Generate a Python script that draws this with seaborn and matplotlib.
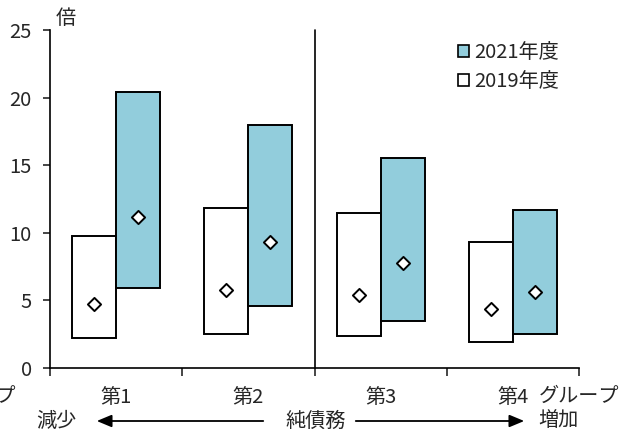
import matplotlib
matplotlib.use("Agg")
import matplotlib.pyplot as plt
from matplotlib.patches import Patch, FancyArrowPatch
import pandas as pd
import seaborn as sns

# data (倍)
groups = ["第1", "第2", "第3", "第4"]
years = ["2019年度", "2021年度"]
low_2019 = [2.2, 2.5, 2.4, 1.9]
high_2019 = [9.8, 11.8, 11.5, 9.3]
mid_2019 = [4.7, 5.8, 5.4, 4.4]
low_2021 = [5.9, 4.6, 3.5, 2.5]
high_2021 = [20.4, 18.0, 15.5, 11.7]
mid_2021 = [11.2, 9.3, 7.8, 5.6]
yticks = [0, 5, 10, 15, 20, 25]

sns.set_style("white")
plt.rcParams["font.family"] = ["Noto Sans CJK JP", "DejaVu Sans"]
plt.rcParams["font.size"] = 14.5

fill_colors = {"2019年度": "white", "2021年度": "#92CDDC"}

df = pd.DataFrame({
    "group": groups * 2,
    "year": [years[0]] * 4 + [years[1]] * 4,
    "span": [h - l for h, l in zip(high_2019, low_2019)] + [h - l for h, l in zip(high_2021, low_2021)],
})

fig = plt.figure(figsize=(6.29, 4.33), dpi=100)
ax = fig.add_axes([50 / 629, 1 - 368 / 433, 529 / 629, 338 / 433])

sns.barplot(data=df, x="group", y="span", hue="year", hue_order=years,
            order=groups, palette=fill_colors, saturation=1, width=2 / 3, dodge=True,
            edgecolor="black", linewidth=1.4, legend=False, ax=ax)

# make the boxes float: lift each bar to its low value
for cont, lows in zip(ax.containers, [low_2019, low_2021]):
    for bar, lo in zip(cont, lows):
        bar.set_y(lo)

# median diamonds
pos = list(range(len(groups)))
mid_df = pd.DataFrame({
    "x": [p - 1 / 6 for p in pos] + [p + 1 / 6 for p in pos],
    "y": mid_2019 + mid_2021,
})
sns.scatterplot(data=mid_df, x="x", y="y", marker="D", s=45, color="white",
                edgecolor="black", linewidth=1.4, zorder=5, ax=ax)

ax.set_xlim(-0.5, 3.5)
ax.set_ylim(0, 25)
ax.set_yticks(yticks)
ax.set_xlabel("")
ax.set_ylabel("")
ax.set_xticks([-0.5, 0.5, 1.5, 2.5, 3.5])
ax.set_xticklabels([])
ax.set_xticks(pos, minor=True)
ax.set_xticklabels(groups, minor=True)
ax.tick_params(axis="x", which="major", direction="out", length=6, width=1.2, bottom=True)
ax.tick_params(axis="x", which="minor", length=0, pad=14)
ax.tick_params(axis="y", direction="out", length=5, width=1.2, left=True, pad=8)
for s in ["top", "right"]:
    ax.spines[s].set_visible(False)
for s in ["left", "bottom"]:
    ax.spines[s].set_color("black")
    ax.spines[s].set_linewidth(1.2)

ax.axvline(1.5, color="black", lw=1.2, clip_on=False)

handles = [Patch(facecolor=fill_colors["2021年度"], edgecolor="black", linewidth=1.2),
           Patch(facecolor="white", edgecolor="black", linewidth=1.2)]
fig.legend(handles, ["2021年度", "2019年度"], loc="upper left",
           bbox_to_anchor=(440 / 629, 1 - 24 / 433), frameon=False,
           handlelength=0.55, handleheight=0.55, handletextpad=0.25,
           labelspacing=0.4, fontsize=14.5)

fig.text(56 / 629, 1 - 19 / 433, "倍", va="center", ha="left")
fig.text(539 / 629, 1 - 396 / 433, "グループ", va="center", ha="left")
fig.text(16 / 629, 1 - 396 / 433, "グループ", va="center", ha="right")

yb = 1 - 421 / 433
fig.text(36 / 629, yb, "減少", va="center", ha="left")
fig.text(316 / 629, yb, "純債務", va="center", ha="center")
fig.text(538 / 629, yb, "増加", va="center", ha="left")
arrow = dict(arrowstyle="-|>,head_length=0.6,head_width=0.25", color="black", lw=1.3)
fig.add_artist(FancyArrowPatch((266 / 629, yb), (94 / 629, yb),
                               transform=fig.transFigure, mutation_scale=15, **arrow))
fig.add_artist(FancyArrowPatch((353 / 629, yb), (527 / 629, yb),
                               transform=fig.transFigure, mutation_scale=15, **arrow))

fig.savefig("out.png", dpi=100)
